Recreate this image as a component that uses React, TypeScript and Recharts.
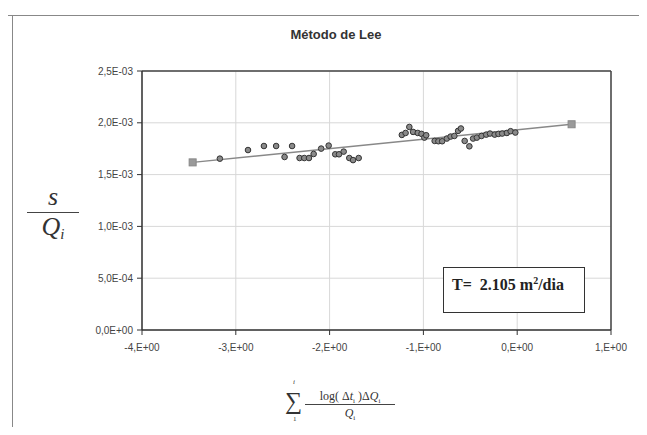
import React from "react";
import {
  ScatterChart,
  Scatter,
  XAxis,
  YAxis,
  CartesianGrid,
  ReferenceLine,
} from "recharts";

// Observed points (x = Σ log(Δt_i)ΔQ_i/Q_i, y = s/Q_i)
const obsX = [
  -3.17, -2.87, -2.7, -2.57, -2.4, -2.48, -2.32, -2.27, -2.22, -2.17, -2.09,
  -2.01, -1.94, -1.9, -1.85, -1.79, -1.75, -1.69, -1.23, -1.19, -1.15, -1.11,
  -1.06, -1.02, -0.99, -0.97, -0.88, -0.84, -0.8, -0.75, -0.71, -0.67, -0.63,
  -0.6, -0.56, -0.51, -0.47, -0.43, -0.38, -0.33, -0.29, -0.24, -0.2, -0.16,
  -0.11, -0.07, -0.02,
];
const obsY = [
  1.654, 1.737, 1.776, 1.776, 1.776, 1.67, 1.66, 1.66, 1.66, 1.699, 1.751,
  1.78, 1.696, 1.696, 1.722, 1.66, 1.64, 1.66, 1.883, 1.902, 1.96, 1.912,
  1.902, 1.893, 1.857, 1.88, 1.825, 1.822, 1.822, 1.848, 1.867, 1.873, 1.922,
  1.945, 1.825, 1.773, 1.848, 1.857, 1.873, 1.886, 1.896, 1.886, 1.893, 1.896,
  1.902, 1.919, 1.906,
].map((v) => v / 1000);

// Fitted line end points
const fitX = [-3.46, 0.58];
const fitY = [1.618e-3, 1.986e-3];

const xTicks = [-4, -3, -2, -1, 0, 1];
const yTicks = [0, 0.0005, 0.001, 0.0015, 0.002, 0.0025];

const obsData = obsX.map((x, i) => ({ x, y: obsY[i] }));
const fitData = fitX.map((x, i) => ({ x, y: fitY[i] }));

const fmtY = (v: number) => {
  const s = v.toExponential(1);
  const [m, e] = s.split("e");
  const ex = parseInt(e, 10);
  const sign = ex < 0 ? "-" : "+";
  const abs = Math.abs(ex).toString().padStart(2, "0");
  return `${m.replace(".", ",")}E${sign}${abs}`;
};
const fmtX = (v: number) => `${v},E+00`;

const Dot = (props: any) => {
  const { cx, cy } = props;
  return <circle cx={cx} cy={cy} r={2.8} fill="#8a8a8a" stroke="#333" strokeWidth={1} />;
};
const Sq = (props: any) => {
  const { cx, cy } = props;
  return <rect x={cx - 3.5} y={cy - 3.5} width={7} height={7} fill="#9a9a9a" stroke="#888" />;
};

const tickStyle = { fontFamily: "Arial, 'Liberation Sans', sans-serif", fontSize: 10, fill: "#444" };
const serif = "'Times New Roman', 'Liberation Serif', serif";

export default function App() {
  return (
    <div style={{ position: "relative", width: 647, height: 435, margin: -8, background: "#fff", overflow: "hidden" }}>
      {/* outer chart frame */}
      <div style={{ position: "absolute", left: 0, top: 15, width: 647, height: 0, borderTop: "1.5px solid #888" }} />
      <div style={{ position: "absolute", left: 12, top: 15, width: 0, height: 420, borderLeft: "1.5px solid #888" }} />
      <div
        style={{
          position: "absolute",
          left: 236,
          top: 27,
          width: 200,
          textAlign: "center",
          fontFamily: "Arial, 'Liberation Sans', sans-serif",
          fontWeight: "bold",
          fontSize: 13,
          color: "#333",
        }}
      >
        Método de Lee
      </div>
      <div style={{ position: "absolute", left: 0, top: 0 }}>
        <ScatterChart width={647} height={435} margin={{ top: 71, right: 36, bottom: 75, left: 82 }}>
          <CartesianGrid stroke="#d8d8d8" strokeWidth={1} />
          <XAxis
            type="number"
            dataKey="x"
            domain={[-4, 1]}
            ticks={xTicks}
            tickFormatter={fmtX}
            tick={tickStyle}
            tickSize={5}
            tickMargin={9}
            height={30}
            stroke="#333"
            axisLine={{ stroke: "#333", strokeWidth: 1.5 }}
            allowDataOverflow
          />
          <YAxis
            type="number"
            dataKey="y"
            domain={[0, 0.0025]}
            ticks={yTicks}
            tickFormatter={fmtY}
            tick={tickStyle}
            tickSize={5}
            tickMargin={4}
            width={60}
            stroke="#333"
            axisLine={{ stroke: "#333", strokeWidth: 1.5 }}
            allowDataOverflow
          />
          <ReferenceLine y={0.0025} stroke="#444" strokeWidth={1.5} />
          <ReferenceLine x={1} stroke="#444" strokeWidth={1.5} />
          <Scatter data={fitData} line={{ stroke: "#888", strokeWidth: 1.5 }} shape={<Sq />} isAnimationActive={false} />
          <Scatter data={obsData} shape={<Dot />} isAnimationActive={false} />
        </ScatterChart>
      </div>

      {/* T annotation box */}
      <div
        style={{
          position: "absolute",
          left: 443,
          top: 267,
          width: 142,
          height: 46,
          border: "1.5px solid #333",
          background: "#fff",
          boxSizing: "border-box",
          fontFamily: serif,
          fontWeight: "bold",
          fontSize: 16,
          color: "#222",
          paddingLeft: 8,
          paddingTop: 7,
          whiteSpace: "nowrap",
        }}
      >
        T=&nbsp; 2.105 m<sup style={{ fontSize: 10 }}>2</sup>/dia
      </div>

      {/* Y axis label: s / Q_i */}
      <div
        style={{
          position: "absolute",
          left: 27,
          top: 185,
          width: 52,
          textAlign: "center",
          fontFamily: serif,
          fontStyle: "italic",
          fontSize: 26,
          color: "#333",
          lineHeight: "24px",
        }}
      >
        <div>s</div>
        <div style={{ borderTop: "1.5px solid #444", marginTop: 3 }} />
        <div style={{ marginTop: 2 }}>
          Q<span style={{ fontSize: 15, verticalAlign: "-4px" }}>i</span>
        </div>
      </div>

      {/* X axis label: Σ log(Δt_i)ΔQ_i / Q_i */}
      <div style={{ position: "absolute", left: 293, top: 378, fontFamily: serif, fontSize: 7, fontStyle: "italic", color: "#333", lineHeight: "8px" }}>
        i
      </div>
      <div style={{ position: "absolute", left: 285, top: 389, fontFamily: serif, fontSize: 24, color: "#333", lineHeight: "24px" }}>
        ∑
      </div>
      <div style={{ position: "absolute", left: 293, top: 415, fontFamily: serif, fontSize: 7, color: "#333", lineHeight: "8px" }}>
        1
      </div>
      <div
        style={{
          position: "absolute",
          left: 305,
          top: 390,
          width: 90,
          textAlign: "center",
          fontFamily: serif,
          fontSize: 12,
          color: "#333",
          lineHeight: "12px",
        }}
      >
        <div>
          log( Δ<i>t</i>
          <sub style={{ fontSize: 7, lineHeight: 0 }}>i</sub> )Δ<i>Q</i>
          <sub style={{ fontSize: 7, lineHeight: 0 }}>i</sub>
        </div>
        <div style={{ borderTop: "1px solid #444", marginTop: 2 }} />
        <div style={{ marginTop: 2 }}>
          <i>Q</i>
          <sub style={{ fontSize: 7, lineHeight: 0 }}>i</sub>
        </div>
      </div>
    </div>
  );
}
